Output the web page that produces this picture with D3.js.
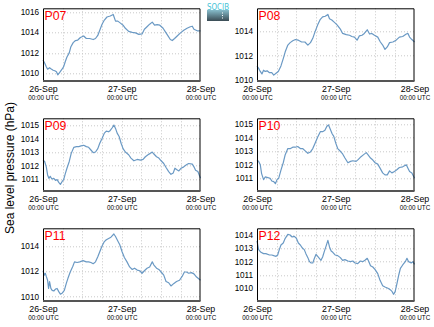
<!DOCTYPE html>
<html><head><meta charset="utf-8">
<script src="https://cdn.jsdelivr.net/npm/d3@7"></script>
<style>
html,body{margin:0;padding:0;background:#fff;}
svg{display:block;font-family:"Liberation Sans",Arial,Helvetica,sans-serif;}
</style></head><body>
<svg id="chart" width="434" height="327"></svg>
<script>
// ---- data ----
const panelNames = ["P07","P08","P09","P10","P11","P12"];
const xTickLabels = ["26-Sep","27-Sep","28-Sep"];
const xTickSubLabel = "00:00 UTC";
const yAxisTitle = "Sea level pressure (hPa)";
const startTime = "2008-09-26T00:00:00Z";

const yTicks = [
  [1010,1012,1014,1016],
  [1010,1012,1014],
  [1011,1012,1013,1014,1015],
  [1011,1012,1013,1014,1015],
  [1010,1012,1014],
  [1010,1011,1012,1013,1014]
];
const yDomains = [
  [1009.25,1016.35],[1009.92,1015.85],[1010.11,1015.5],
  [1010.06,1015.44],[1009.66,1015.4],[1009.05,1014.5]
];

const p07Hours  = [0,0.5,1.0,1.4,2.0,2.4,3.1,3.6,4.1,4.5,5.1,5.8,6.3,6.8,7.3,8.0,8.5,9.2,9.9,10.6,11.4,12.4,13.2,14.2,15.3,16.0,16.7,17.3,18.0,18.7,19.5,20.5,21.4,22.1,22.8,23.6,24.4,25.1,26.1,27.2,28.2,29.2,30.2,30.9,31.7,32.5,33.3,34.0,34.8,35.6,36.6,37.3,38.0,38.8,39.4,40.1,40.9,41.9,42.9,43.9,44.9,45.5,46.0,47.0,48.0];
const p07Values = [1011.3,1011.0,1010.65,1010.4,1010.55,1010.45,1010.3,1010.25,1010.15,1009.85,1010.1,1010.4,1010.65,1011.15,1011.6,1012.0,1012.6,1013.0,1013.2,1013.25,1013.5,1013.65,1013.4,1013.4,1013.3,1013.4,1013.7,1014.2,1014.8,1015.2,1015.5,1015.6,1015.75,1015.1,1015.1,1014.9,1014.7,1014.4,1014.1,1014.0,1013.95,1013.8,1013.85,1014.3,1014.55,1014.8,1015.0,1014.7,1014.75,1014.7,1014.4,1014.05,1013.7,1013.3,1013.2,1013.4,1013.65,1013.95,1014.2,1014.4,1014.55,1014.6,1014.3,1014.15,1014.15];

const p08Hours  = [0,0.5,1.0,1.5,2.0,2.5,3.1,3.8,4.5,5.1,5.8,6.5,7.3,8.0,8.6,9.4,10.1,10.9,11.7,12.6,13.6,14.6,15.5,16.3,17.0,17.7,18.5,19.3,20.0,20.8,21.6,22.1,22.8,23.6,24.4,25.4,26.1,27.2,28.2,28.9,29.7,30.5,31.2,32.0,32.7,33.6,34.3,35.0,35.8,36.8,37.6,38.3,39.0,39.7,40.4,41.4,42.4,43.4,44.4,45.5,46.0,46.5,47.2,48.0];
const p08Values = [1011.14,1010.95,1010.7,1010.5,1010.8,1010.7,1010.75,1010.6,1010.6,1010.4,1010.55,1010.7,1011.15,1011.75,1012.3,1012.85,1013.05,1013.2,1013.3,1013.25,1013.1,1013.1,1012.85,1013.05,1013.4,1013.95,1014.5,1014.95,1015.15,1015.2,1015.35,1015.0,1014.9,1014.7,1014.5,1014.15,1013.8,1013.7,1013.65,1013.55,1013.5,1013.25,1013.6,1013.65,1013.8,1014.1,1013.75,1013.8,1013.65,1013.5,1013.1,1012.85,1012.5,1012.7,1013.05,1013.1,1013.25,1013.5,1013.55,1013.75,1013.8,1013.5,1013.3,1013.1];

const p09Hours  = [0,0.5,1.0,1.4,1.8,2.2,2.7,3.3,3.8,4.3,4.8,5.3,5.8,6.3,6.8,7.3,8.0,8.6,9.4,10.2,10.9,11.6,12.4,13.2,13.9,14.6,15.3,16.0,16.7,17.3,18.0,18.7,19.3,20.0,20.5,21.1,21.6,22.1,22.6,23.2,23.8,24.4,25.1,26.1,26.8,27.7,28.7,29.7,30.5,31.2,32.0,32.7,33.3,33.8,34.6,35.3,36.0,36.8,37.5,38.3,39.0,39.7,40.2,40.7,41.4,42.1,42.9,43.7,44.4,45.5,46.0,46.5,47.2,48.0];
const p09Values = [1012.4,1012.3,1011.9,1011.3,1011.05,1011.2,1011.0,1011.05,1010.9,1010.95,1010.75,1010.6,1010.8,1010.95,1011.4,1011.8,1012.3,1012.9,1013.35,1013.4,1013.4,1013.45,1013.5,1013.4,1013.35,1013.15,1012.95,1013.0,1013.25,1013.65,1014.0,1014.4,1014.55,1014.5,1014.6,1014.8,1015.0,1014.75,1014.4,1014.15,1013.65,1013.25,1013.0,1012.8,1012.55,1012.35,1012.45,1012.4,1012.45,1012.65,1012.8,1012.9,1013.0,1012.85,1012.65,1012.55,1012.35,1012.15,1011.85,1011.55,1011.35,1011.45,1011.8,1011.7,1011.6,1011.8,1011.9,1012.05,1012.15,1012.1,1011.9,1011.65,1011.55,1011.05];

const p10Hours  = [0,0.5,1.0,1.4,2.0,2.5,3.3,4.0,4.5,5.1,5.6,6.1,6.6,7.3,8.0,8.6,9.4,10.2,10.9,11.7,12.4,13.2,13.9,14.6,15.5,16.3,17.0,17.7,18.5,19.3,20.0,20.7,21.3,21.8,22.4,22.9,23.4,24.0,24.6,25.4,26.1,26.8,27.7,28.5,29.2,30.2,30.9,31.7,32.5,33.3,33.8,34.6,35.3,36.0,36.8,37.5,38.3,39.0,39.7,40.4,41.1,41.9,42.7,43.4,44.4,45.5,46.0,46.5,47.2,48.0];
const p10Values = [1012.35,1012.25,1012.0,1011.35,1010.9,1011.1,1011.05,1011.0,1010.8,1010.75,1010.6,1010.9,1011.0,1011.6,1012.15,1012.75,1013.2,1013.2,1013.3,1013.3,1013.35,1013.2,1013.2,1013.05,1012.85,1012.95,1013.2,1013.6,1014.05,1014.45,1014.45,1014.55,1014.85,1014.95,1014.6,1014.3,1014.1,1013.6,1013.2,1013.0,1012.8,1012.5,1012.15,1012.25,1012.3,1012.25,1012.4,1012.6,1012.75,1012.9,1012.75,1012.5,1012.35,1012.15,1012.05,1011.75,1011.4,1011.25,1011.25,1011.55,1011.4,1011.5,1011.65,1011.8,1011.85,1012.0,1011.75,1011.5,1011.4,1011.0];

const p11Hours  = [0,0.4,0.7,1.0,1.4,1.7,2.0,2.4,2.8,3.3,3.8,4.3,4.8,5.3,5.9,6.5,7.1,7.6,8.3,9.1,9.6,10.4,11.2,12.2,13.2,13.9,14.6,15.3,16.0,16.7,17.3,18.0,18.7,19.3,20.0,20.7,21.6,22.1,22.8,23.4,24.1,24.8,25.6,26.4,27.2,27.9,28.7,29.5,30.2,30.9,31.7,32.5,33.3,33.8,34.6,35.3,36.0,36.8,37.5,38.3,39.0,39.9,40.7,41.6,42.4,43.1,43.7,44.4,45.2,46.0,46.8,48.0];
const p11Values = [1012.05,1011.7,1011.85,1011.6,1011.3,1010.65,1011.2,1010.65,1010.5,1010.45,1010.6,1010.65,1010.4,1010.2,1010.3,1010.5,1011.05,1011.45,1011.95,1012.4,1012.75,1012.7,1012.75,1012.85,1012.75,1012.75,1012.7,1012.6,1012.75,1013.15,1013.55,1014.0,1014.35,1014.5,1014.6,1014.7,1014.95,1014.75,1014.4,1014.1,1013.55,1013.1,1012.75,1012.35,1012.15,1012.25,1012.1,1012.05,1011.85,1012.05,1012.25,1012.35,1012.75,1012.5,1012.25,1012.15,1011.95,1011.7,1011.2,1011.1,1010.85,1011.05,1011.2,1011.3,1011.6,1011.95,1011.95,1011.85,1011.9,1011.8,1011.55,1011.3];

const p12Hours  = [0,0.5,1.2,2.0,2.7,3.8,4.5,5.1,5.8,6.3,6.8,7.3,8.0,8.6,9.4,10.1,10.7,11.4,12.0,12.6,13.2,13.9,14.4,14.9,15.5,16.0,16.5,17.0,17.5,18.0,18.5,19.0,19.5,20.0,20.5,21.1,21.6,22.1,22.6,23.1,23.8,24.6,25.4,26.1,26.8,27.7,28.5,29.2,29.9,30.7,31.5,32.2,32.9,33.6,34.1,34.6,35.3,36.0,36.8,37.5,38.3,39.0,39.9,40.6,41.2,41.6,42.1,42.7,43.2,43.7,44.4,45.2,45.7,46.2,47.0,47.5,48.0];
const p12Values = [1013.55,1012.9,1012.7,1012.6,1012.6,1012.5,1012.5,1012.45,1012.4,1012.5,1012.9,1013.25,1013.4,1013.75,1014.05,1014.0,1013.85,1013.9,1013.75,1013.4,1013.25,1013.0,1012.9,1012.6,1012.3,1012.0,1011.9,1011.9,1012.25,1012.55,1012.4,1012.25,1012.1,1012.35,1012.75,1013.2,1013.6,1013.1,1012.8,1012.7,1012.5,1012.45,1012.3,1012.1,1012.15,1012.05,1012.0,1012.05,1011.9,1011.85,1012.05,1012.0,1012.1,1012.25,1012.0,1011.7,1011.6,1011.4,1011.1,1010.6,1010.2,1010.1,1010.0,1009.9,1009.75,1009.55,1009.75,1010.4,1011.0,1011.5,1011.75,1012.0,1012.25,1012.0,1011.9,1012.0,1011.8];

const seriesHours  = [p07Hours,p08Hours,p09Hours,p10Hours,p11Hours,p12Hours];
const seriesValues = [p07Values,p08Values,p09Values,p10Values,p11Values,p12Values];

// ---- layout ----
const svg = d3.select("#chart");
const colX = [43, 257];
const rowY = [8.3, 118.3, 228.3];
const pw = 157.5, ph = 72.7;
const lineColor = "#6a99c4";

const t0 = new Date(startTime);
const t1 = d3.utcHour.offset(t0, 48);
const hourToDate = h => new Date(t0.getTime() + h * 3600e3);

panelNames.forEach((name, i) => {
  const col = i % 2, row = Math.floor(i / 2);
  const g = svg.append("g").attr("transform", `translate(${colX[col]},${rowY[row]})`);
  const x = d3.scaleUtc().domain([t0, t1]).range([0, pw]);
  const y = d3.scaleLinear().domain(yDomains[i]).range([ph, 0]);

  const gridTimes = d3.utcHour.every(6).range(d3.utcHour.offset(t0, 1), t1);
  g.append("g").selectAll("line").data(gridTimes).join("line")
    .attr("x1", d => Math.round(x(d)) + 0.5).attr("x2", d => Math.round(x(d)) + 0.5)
    .attr("y1", 0).attr("y2", ph)
    .attr("stroke", "#c8c8c8").attr("stroke-width", 1).attr("stroke-dasharray", "1,2");
  g.append("g").selectAll("line").data(yTicks[i]).join("line")
    .attr("x1", 0).attr("x2", pw)
    .attr("y1", d => Math.round(y(d)) + 0.5).attr("y2", d => Math.round(y(d)) + 0.5)
    .attr("stroke", "#c8c8c8").attr("stroke-width", 1).attr("stroke-dasharray", "1,2");

  const yAxis = d3.axisLeft(y).tickValues(yTicks[i]).tickSize(0).tickPadding(4).tickFormat(d3.format("d"));
  const ya = g.append("g").call(yAxis);
  ya.select(".domain").remove();
  ya.selectAll("text").attr("font-size", 8.2).attr("fill", "#000").attr("font-family", "Liberation Sans, Arial, sans-serif");

  const xTickDates = [t0, d3.utcDay.offset(t0, 1), t1];
  const xAxis = d3.axisBottom(x).tickValues(xTickDates).tickSize(0).tickPadding(0)
    .tickFormat((d, k) => xTickLabels[k]);
  const xa = g.append("g").attr("transform", `translate(0,${ph})`).call(xAxis);
  xa.select(".domain").remove();
  xa.selectAll("text").attr("font-size", 8.8).attr("fill", "#000").attr("y", 0).attr("dy", 11.3)
    .attr("font-family", "Liberation Sans, Arial, sans-serif");
  xa.selectAll(".tick").append("text")
    .attr("y", 19).attr("text-anchor", "middle").attr("font-size", 6.3).attr("fill", "#000")
    .attr("font-family", "Liberation Sans, Arial, sans-serif")
    .text(xTickSubLabel);

  const pts = seriesHours[i].map((h, k) => [hourToDate(h), seriesValues[i][k]]);
  g.append("path").datum(pts)
    .attr("fill", "none").attr("stroke", lineColor).attr("stroke-width", 1.2)
    .attr("stroke-linejoin", "round")
    .attr("d", d3.line().x(d => x(d[0])).y(d => y(d[1])));

  g.append("path").attr("d", `M0.5,${ph}V0.5H${pw - 0.5}V${ph}`)
    .attr("fill", "none").attr("stroke", "#000").attr("stroke-width", 1);
  g.append("line").attr("x1", 0).attr("x2", pw).attr("y1", ph).attr("y2", ph)
    .attr("stroke", "#555").attr("stroke-width", 2);

  g.append("text").attr("x", 1.5).attr("y", 11.7).attr("fill", "#ff0000")
    .attr("font-size", 12.3).attr("font-family", "Liberation Sans, Arial, sans-serif").text(name);
});

svg.append("text")
  .attr("transform", "translate(13.5,168) rotate(-90)")
  .attr("text-anchor", "middle").attr("font-size", 12).attr("fill", "#000")
  .text(yAxisTitle);

// logo
const defs = svg.append("defs");
const grad = defs.append("linearGradient").attr("id", "logoGrad").attr("x1", 0).attr("x2", 0).attr("y1", 0).attr("y2", 1);
grad.append("stop").attr("offset", "0%").attr("stop-color", "#86bccb");
grad.append("stop").attr("offset", "100%").attr("stop-color", "#3a4b54");
svg.append("rect").attr("x", 207).attr("y", 10).attr("width", 22).attr("height", 11).attr("fill", "url(#logoGrad)");
svg.append("text").attr("x", 207).attr("y", 9.5)
  .attr("font-size", 9).attr("textLength", 22).attr("lengthAdjust", "spacingAndGlyphs")
  .attr("fill", "#45c3d6").attr("font-family", "DejaVu Sans, sans-serif").text("SOCIB");
[12.5, 15, 17.5].forEach(yy => svg.append("rect").attr("x", 222).attr("y", yy).attr("width", 1).attr("height", 1).attr("fill", "#fff"));
</script>
</body></html>
